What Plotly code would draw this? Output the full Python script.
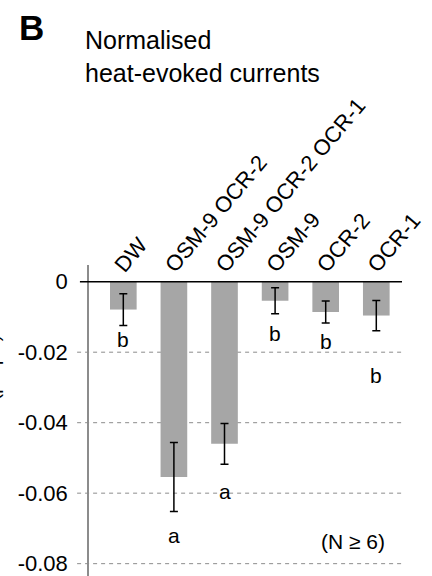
import plotly.graph_objects as go

# Genotypes and normalised heat-evoked current amplitudes
genotypes = ["DW", "OSM-9 OCR-2", "OSM-9 OCR-2 OCR-1", "OSM-9", "OCR-2", "OCR-1"]
mean_current = [-0.0079, -0.0554, -0.0460, -0.0054, -0.0086, -0.0096]
sem_current = [0.0045, 0.0098, 0.0058, 0.0037, 0.0031, 0.0043]

# Statistical group letters and where they sit
group_letters = ["b", "a", "a", "b", "b", "b"]
letter_y = [-0.0165, -0.0721, -0.0595, -0.0148, -0.0169, -0.0267]

y_ticks = [0, -0.02, -0.04, -0.06, -0.08]
y_tick_text = ["0", "-0.02", "-0.04", "-0.06", "-0.08"]

FONT = "Liberation Sans, Arial, Helvetica, sans-serif"
W, H = 432, 576
ML, MR, MT, MB = 89, 30, 265, 0
Y_RANGE = [-0.0835, 0.00474]
X_RANGE = [-0.678, 5.508]
PW, PH = W - ML - MR, H - MT - MB

fig = go.Figure()

fig.add_trace(go.Bar(
    x=list(range(len(genotypes))),
    y=mean_current,
    width=0.527,
    marker=dict(color="#a6a6a6", line=dict(width=0)),
    error_y=dict(type="data", array=sem_current, visible=True,
                 color="black", thickness=1.5, width=4),
    showlegend=False,
))

# Dashed gridlines extending slightly left of the axis
for t in y_ticks[1:]:
    fig.add_shape(type="line", xref="paper", yref="y",
                  x0=-0.038, x1=1.0, y0=t, y1=t,
                  line=dict(color="#8c8c8c", width=1, dash="4px,4px"),
                  layer="below")

# Solid zero line
fig.add_shape(type="line", xref="paper", yref="y",
              x0=-0.029, x1=1.0, y0=0, y1=0,
              line=dict(color="black", width=1.6), layer="above")

# Group letters
for i, (lab, ly) in enumerate(zip(group_letters, letter_y)):
    fig.add_annotation(x=i, y=ly, xref="x", yref="y", text=lab,
                       showarrow=False, font=dict(family=FONT, size=21, color="black"))

fig.add_annotation(x=4.54, y=-0.0738, xref="x", yref="y", text="(N ≥ 6)",
                   showarrow=False, font=dict(family=FONT, size=21, color="black"))

# Panel letter and title
fig.add_annotation(x=(17 - ML) / PW, y=(H - 6 - MB) / PH,
                   xref="paper", yref="paper", xanchor="left", yanchor="top",
                   text="<b>B</b>", showarrow=False,
                   font=dict(family=FONT, size=35, color="black"))
fig.add_annotation(x=(83 - ML) / PW, y=(H - 24 - MB) / PH,
                   xref="paper", yref="paper", xanchor="left", yanchor="top",
                   align="left", text="Normalised<br>heat-evoked currents",
                   showarrow=False, font=dict(family=FONT, size=25, color="black"))

# Y-axis title (mostly outside the visible page)
fig.add_annotation(x=(5 - ML) / PW, y=0.49, xref="paper", yref="paper",
                   xanchor="right", yanchor="middle", textangle=-90,
                   text="Normalised I (µA/µA)", showarrow=False,
                   font=dict(family=FONT, size=19, color="black"))

fig.update_layout(
    width=W, height=H,
    margin=dict(l=ML, r=MR, t=MT, b=MB, pad=0),
    paper_bgcolor="white", plot_bgcolor="white",
    xaxis=dict(
        range=X_RANGE,
        tickmode="array",
        tickvals=list(range(len(genotypes))),
        ticktext=genotypes,
        tickangle=-50,
        side="top",
        anchor="free",
        position=(H - MB - 282) / PH,
        showline=False, showgrid=False, zeroline=False, ticks="",
        ticklabelshift=-7,
        ticklabeloverflow="allow",
        tickfont=dict(family=FONT, size=22, color="black"),
        fixedrange=True,
    ),
    yaxis=dict(
        range=Y_RANGE,
        tickmode="array",
        tickvals=y_ticks,
        ticktext=y_tick_text,
        showline=True, linecolor="#8c8c8c", linewidth=1.5,
        showgrid=False, zeroline=False, ticks="",
        ticklabelstandoff=15,
        ticklabeloverflow="allow",
        tickfont=dict(family=FONT, size=22, color="black"),
        fixedrange=True,
    ),
)

fig.write_html("out.html")
